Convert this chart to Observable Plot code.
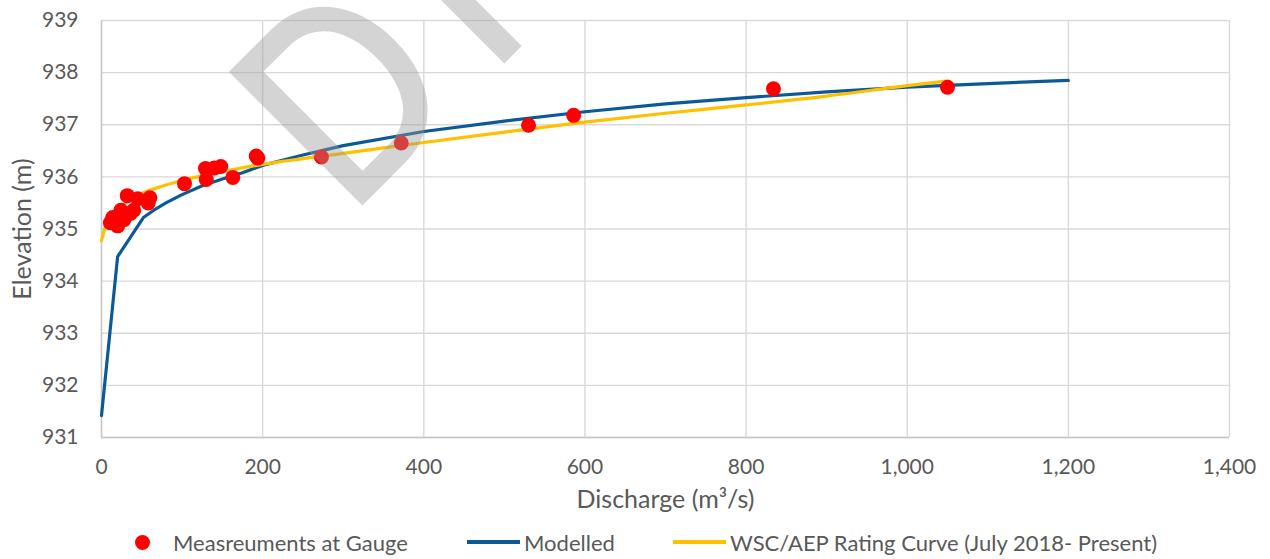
<!DOCTYPE html>
<html>
<head>
<meta charset="utf-8">
<script src="https://cdn.jsdelivr.net/npm/d3@7"></script>
<script src="https://cdn.jsdelivr.net/npm/@observablehq/plot@0.6"></script>
<style>
  html, body { margin: 0; padding: 0; background: #fff; }
  #chart { width: 1270px; }
  #legend { position: relative; width: 1270px; height: 34px; font-family: Lato, sans-serif; font-size: 22px; color: #595959; }
  #legend .item { position: absolute; top: 0; height: 34px; display: flex; align-items: center; white-space: nowrap; }
  #legend .dot { width: 15px; height: 15px; border-radius: 50%; background: #ff0000; }
  #legend .ln { width: 53px; height: 4px; }
</style>
</head>
<body>
<div id="chart"></div>
<div id="legend"></div>
<script>
// ---- Data ----
const xTicks = [0, 200, 400, 600, 800, 1000, 1200, 1400];
const yTicks = [931, 932, 933, 934, 935, 936, 937, 938, 939];

const seriesNames = ["Measreuments at Gauge", "Modelled", "WSC/AEP Rating Curve (July 2018- Present)"];

// Measurements at gauge
const gaugeQ = [11, 14, 20, 24, 28, 32, 36, 40, 45, 58, 60, 103, 129, 130, 140, 148, 163, 192, 194, 273, 372, 530, 586, 834, 1050];
const gaugeH = [935.12, 935.22, 935.06, 935.36, 935.18, 935.64, 935.3, 935.36, 935.58, 935.5, 935.6, 935.87, 936.16, 935.95, 936.17, 936.2, 935.99, 936.4, 936.36, 936.38, 936.65, 936.99, 937.18, 937.69, 937.72];

// Modelled rating curve
const modelQ = [0, 20, 52, 65, 80, 100, 125, 150, 175, 200, 250, 300, 400, 500, 600, 700, 800, 900, 1000, 1100, 1200];
const modelH = [931.42, 934.47, 935.22, 935.36, 935.5, 935.66, 935.83, 935.96, 936.08, 936.22, 936.42, 936.6, 936.87, 937.07, 937.25, 937.4, 937.52, 937.63, 937.72, 937.79, 937.85];

// WSC/AEP rating curve
const ratingQ = [0, 5, 10, 20, 30, 50, 75, 100, 150, 200, 300, 400, 500, 600, 700, 800, 900, 1000, 1050];
const ratingH = [934.78, 935.05, 935.2, 935.38, 935.5, 935.68, 935.82, 935.93, 936.1, 936.24, 936.45, 936.66, 936.86, 937.05, 937.22, 937.38, 937.55, 937.75, 937.84];

const colors = ["#ff0000", "#0b5a97", "#ffc000"];

// ---- Build tables ----
const gauge = gaugeQ.map((q, i) => ({q, h: gaugeH[i]}));
const model = modelQ.map((q, i) => ({q, h: modelH[i]}));
const rating = ratingQ.map((q, i) => ({q, h: ratingH[i]}));

const FONT = "Lato, 'Open Sans', sans-serif";

const chart = Plot.plot({
  width: 1270,
  height: 525,
  marginLeft: 101,
  marginRight: 41,
  marginTop: 20,
  marginBottom: 88,
  style: {fontFamily: FONT, fontSize: "21px", color: "#595959", background: "#fff"},
  x: {domain: [0, 1400]},
  y: {domain: [931, 939]},
  marks: [
    Plot.gridX(xTicks, {stroke: "#d9d9d9", strokeOpacity: 1, strokeWidth: 1.4}),
    Plot.gridY(yTicks, {stroke: "#d9d9d9", strokeOpacity: 1, strokeWidth: 1.4}),
    Plot.ruleX([0], {stroke: "#c6c6c6", strokeWidth: 1.4}),
    Plot.ruleY([931], {stroke: "#c6c6c6", strokeWidth: 1.4}),
    Plot.axisX(xTicks, {tickSize: 0, tickPadding: 22, tickFormat: d3.format(","), label: null, fill: "#595959"}),
    Plot.axisY(yTicks, {tickSize: 0, tickPadding: 23, tickFormat: d3.format("d"), label: null, fill: "#595959"}),
    Plot.line(model, {x: "q", y: "h", stroke: colors[1], strokeWidth: 3.2}),
    Plot.line(rating, {x: "q", y: "h", stroke: colors[2], strokeWidth: 3.2, curve: "monotone-x"}),
    Plot.dot(gauge, {x: "q", y: "h", r: 7.5, fill: colors[0], stroke: "none"}),
    Plot.text(["Discharge (m³/s)"], {frameAnchor: "bottom", dy: 70, fontSize: 25, fill: "#595959", textAnchor: "middle"}),
    Plot.text(["Elevation (m)"], {frameAnchor: "left", dx: -79, rotate: -90, fontSize: 25, fill: "#595959", textAnchor: "middle"})
  ]
});
document.getElementById("chart").appendChild(chart);

// Watermark
d3.select(chart).append("text")
  .attr("transform", "translate(348,217) rotate(-45) scale(0.85,1)")
  .attr("text-anchor", "start")
  .attr("font-family", FONT)
  .attr("font-size", 258)
  .attr("letter-spacing", 40)
  .attr("fill", "#9a9a9a")
  .attr("stroke", "#9a9a9a")
  .attr("stroke-width", 4)
  .attr("stroke-linejoin", "miter")
  .attr("opacity", 0.42)
  .text("DRAFT");

// Legend
const legend = document.getElementById("legend");
const items = [
  {sym: "dot", left: 135, textLeft: 173, name: seriesNames[0], color: colors[0]},
  {sym: "ln", left: 467, textLeft: 524, name: seriesNames[1], color: colors[1]},
  {sym: "ln", left: 673, textLeft: 730, name: seriesNames[2], color: colors[2]}
];
for (const it of items) {
  const s = document.createElement("div");
  s.className = "item";
  s.style.left = it.left + "px";
  const m = document.createElement("div");
  m.className = it.sym;
  m.style.background = it.color;
  s.appendChild(m);
  legend.appendChild(s);
  const t = document.createElement("div");
  t.className = "item";
  t.style.left = it.textLeft + "px";
  t.textContent = it.name;
  legend.appendChild(t);
}
</script>
</body>
</html>
